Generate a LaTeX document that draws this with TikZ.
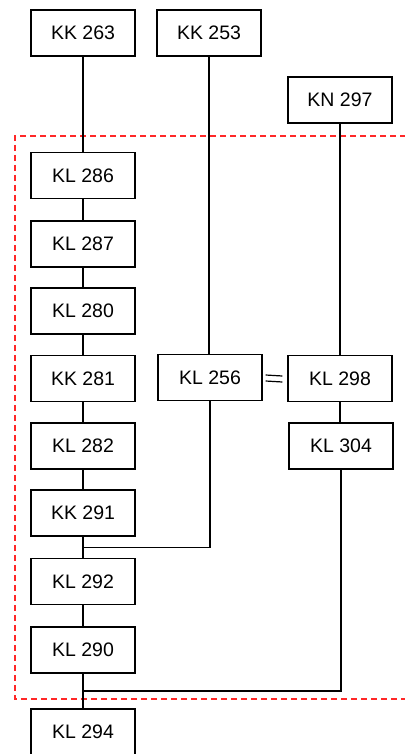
\documentclass[tikz,border=0pt]{standalone}
\usepackage{fontspec}
\setmainfont{Liberation Sans}
\usetikzlibrary{calc}
\definecolor{framered}{RGB}{255,40,40}
\begin{document}
\begin{tikzpicture}[x=1pt,y=-1pt,
  box/.style={draw, line width=1.2pt, minimum width=104pt, minimum height=46pt, inner sep=0pt, font=\fontsize{19.5}{22}\selectfont, fill=white},
  link/.style={line width=1.2pt, draw=black},
  frame/.style={draw=framered, line width=1.3pt, dash pattern=on 6pt off 4pt}]
\useasboundingbox (0,0) rectangle (404,754);
% dashed frame
\draw[frame] (416,136) -- (15,136) -- (15,699) -- (416,699);
% nodes
\node[box] (kk263) at (83,33) {KK 263};
\node[box] (kk253) at (209,33) {KK 253};
\node[box] (kn297) at (340,100) {KN 297};
\node[box] (kl286) at (83,175.5) {KL 286};
\node[box] (kl287) at (83,244) {KL 287};
\node[box] (kl280) at (83,311) {KL 280};
\node[box] (kk281) at (83,378.5) {KK 281};
\node[box] (kl282) at (83,446) {KL 282};
\node[box] (kk291) at (83,513) {KK 291};
\node[box] (kl292) at (83,581.5) {KL 292};
\node[box] (kl290) at (83,650) {KL 290};
\node[box] (kl294) at (83,732) {KL 294};
\node[box] (kl256) at (210,377.5) {KL 256};
\node[box] (kl298) at (340,378.5) {KL 298};
\node[box] (kl304) at (341,446) {KL 304};
% junctions
\coordinate (j1) at ($(kk291.south)!0.5!(kl292.north)$);
\coordinate (j2) at ($(kl290.south)!0.5!(kl294.north)$);
% connectors
\draw[link] (kk263) -- (kl286);
\draw[link] (kl286) -- (kl287);
\draw[link] (kl287) -- (kl280);
\draw[link] (kl280) -- (kk281);
\draw[link] (kk281) -- (kl282);
\draw[link] (kl282) -- (kk291);
\draw[link] (kk291) -- (kl292);
\draw[link] (kl292) -- (kl290);
\draw[link] (kl290) -- (kl294);
\draw[link] (kk253.south) -- (kk253.south |- kl256.north);
\draw[link] (kl256.south) |- (j1);
\draw[link] (kn297.south) -- (kn297.south |- kl298.north);
\draw[link] (kl298.south) -- (kl298.south |- kl304.north);
\draw[link] (kl304.south) |- (j2);
% equals
\draw[link] ($(kl256.east)+(3,-2.5)$) -- ($(kl298.west)+(-5,-2.5)$);
\draw[link] ($(kl256.east)+(3,3.5)$) -- ($(kl298.west)+(-5,3.5)$);
\end{tikzpicture}
\end{document}
